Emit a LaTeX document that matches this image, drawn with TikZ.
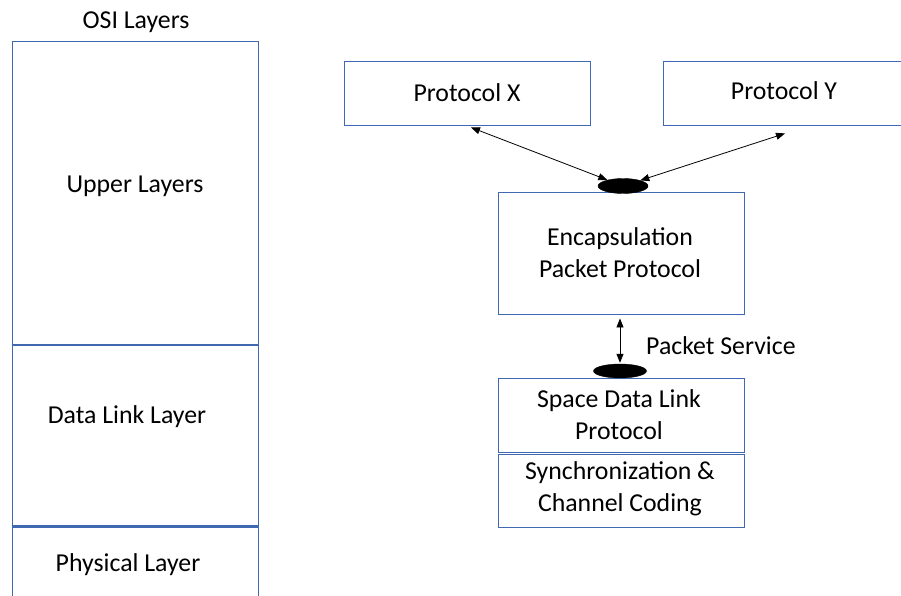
\documentclass[tikz,border=0pt]{standalone}
\usepackage{fontspec}
\setmainfont{Carlito}
\usetikzlibrary{arrows.meta,shapes.geometric}
\definecolor{boxblue}{HTML}{4169B2}
\tikzset{
  lbl/.style={font=\fontsize{25.8}{32}\selectfont, text=black, align=center, inner sep=0pt},
  blk/.style={draw=boxblue, line width=0.9pt, fill=none, inner sep=0pt, rectangle},
  divider/.style={draw=boxblue, line width=1.8pt},
  sap/.style={ellipse, fill=black, draw=black, inner sep=0pt},
  link/.style={draw=black, line width=0.8pt, {Triangle[length=9pt,width=7pt]}-{Triangle[length=9pt,width=7pt]}}
}
\begin{document}
\begin{tikzpicture}[x=1pt,y=-1pt]
\useasboundingbox (0,0) rectangle (901,596);
\clip (0,0) rectangle (901,596);
\fill[white] (0,0) rectangle (901,596);
% OSI column
\node[lbl, anchor=base] (osi) at (136,29) {OSI Layers};
\node[blk, minimum width=246pt, minimum height=304pt] (upper) at (135,193) {};
\node[blk, minimum width=246pt, minimum height=181.5pt] (dll) at (135,436.25) {};
\node[blk, minimum width=246pt, minimum height=101.5pt] (phy) at (135,577.25) {};
\draw[divider] (dll.north west) -- (dll.north east);
\draw[divider] (phy.north west) -- (phy.north east);
\node[lbl, anchor=base] (tupper) at (135,193) {Upper Layers};
\node[lbl, anchor=base] (tdll) at (127,423) {Data Link Layer};
\node[lbl, anchor=base] (tphy) at (128,571) {Physical Layer};
% Protocols
\node[blk, minimum width=246pt, minimum height=64pt] (px) at (467,93) {};
\node[lbl, anchor=base] (tpx) at (467,102) {Protocol X};
\node[blk, minimum width=242pt, minimum height=64pt] (py) at (784,93) {};
\node[lbl, anchor=base] (tpy) at (784,100) {Protocol Y};
% Encapsulation
\node[blk, minimum width=246pt, minimum height=122pt] (enc) at (621,253) {};
\node[lbl] (tenc) at (620,253) {Encapsulation\\Packet Protocol};
% Space data link
\node[blk, minimum width=246pt, minimum height=74pt] (sdl) at (621,415) {};
\node[lbl] (tsdl) at (619,415) {Space Data Link\\Protocol};
\node[blk, minimum width=246pt, minimum height=73pt] (sync) at (621,490.5) {};
\node[lbl] (tsync) at (620,488.5) {Synchronization \&\\Channel Coding};
% SAP ellipses
\node[sap, minimum width=50pt, minimum height=15pt] (e1) at (623,186) {};
\node[sap, minimum width=53pt, minimum height=14pt] (e2) at (620,371) {};
% connectors
\draw[link] ([xshift=4pt,yshift=-2pt]px.south) -- (e1);
\draw[link] ([xshift=1pt,yshift=-8pt]py.south) -- (e1);
\draw[link] ([xshift=-1pt,yshift=-4pt]enc.south) -- ([yshift=1pt]e2.north);
\node[lbl, anchor=base west] (tps) at (646,354) {Packet Service};
\end{tikzpicture}
\end{document}
